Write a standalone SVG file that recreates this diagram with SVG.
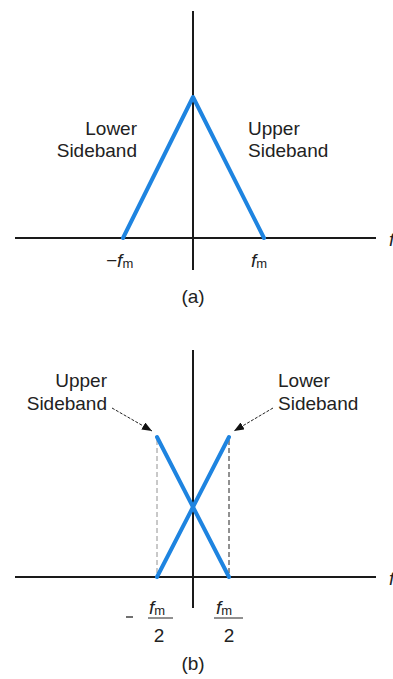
<svg xmlns="http://www.w3.org/2000/svg" width="393" height="679" viewBox="0 0 393 679">
<style>
.ax{stroke:#1a1a1a;stroke-width:2;fill:none}
.bl{stroke:#1e84e0;stroke-width:4;fill:none;stroke-linecap:round;stroke-linejoin:round}
.dsh{stroke:#222;stroke-width:1;fill:none;stroke-dasharray:5,3}
.dshl{stroke:#777;stroke-width:0.8;fill:none;stroke-dasharray:5,3}
.arr{stroke:#222;stroke-width:1;fill:none;stroke-dasharray:3,1.5}
.t{font-family:"Liberation Sans",Arial,sans-serif;font-size:19px;fill:#222}
.fi{font-family:"Liberation Sans",Arial,sans-serif;font-size:19px;font-style:italic;fill:#222}
.sub{font-family:"Liberation Sans",Arial,sans-serif;font-size:13px;font-style:normal;fill:#222}
</style>
<defs>
<marker id="ah" viewBox="0 0 10 8" refX="10" refY="4" markerWidth="10" markerHeight="8" markerUnits="userSpaceOnUse" orient="auto">
<path d="M0,0 L10,4 L0,8 Z" fill="#111"/>
</marker>
</defs>

<g id="panel-a">
<g id="axes-a">
<line class="ax" x1="193" y1="11" x2="193" y2="270"/>
<line class="ax" x1="15" y1="238" x2="376" y2="238"/>
</g>
<g id="spectrum-a">
<polyline class="bl" points="123,238 193,97 264,238"/>
</g>
<g id="label-lower-a">
<text class="t" x="137" y="135" text-anchor="end">Lower</text>
<text class="t" x="137" y="157" text-anchor="end">Sideband</text>
</g>
<g id="label-upper-a">
<text class="t" x="248" y="135">Upper</text>
<text class="t" x="248" y="157">Sideband</text>
</g>
<g id="tick-labels-a">
<text class="fi" x="106" y="267">−f<tspan class="sub" dy="1">m</tspan></text>
<text class="fi" x="251" y="267">f<tspan class="sub" dy="1">m</tspan></text>
</g>
<text class="fi" x="389" y="246">f</text>
<text class="t" x="193" y="303" text-anchor="middle">(a)</text>
</g>

<g id="panel-b">
<g id="axes-b">
<line class="ax" x1="193" y1="350" x2="193" y2="608"/>
<line class="ax" x1="15" y1="577" x2="376" y2="577"/>
</g>
<g id="guides-b">
<line class="dshl" x1="157" y1="440" x2="157" y2="576"/>
<line class="dsh" x1="229" y1="440" x2="229" y2="576"/>
</g>
<g id="spectrum-b">
<line class="bl" x1="157" y1="437" x2="229" y2="577"/>
<line class="bl" x1="157" y1="577" x2="229" y2="437"/>
</g>
<g id="label-upper-b">
<text class="t" x="107" y="387" text-anchor="end">Upper</text>
<text class="t" x="107" y="410" text-anchor="end">Sideband</text>
</g>
<g id="label-lower-b">
<text class="t" x="278" y="387">Lower</text>
<text class="t" x="278" y="410">Sideband</text>
</g>
<g id="connectors">
<line class="arr" x1="112" y1="408" x2="152" y2="431" marker-end="url(#ah)"/>
<line class="arr" x1="273" y1="408" x2="234" y2="431" marker-end="url(#ah)"/>
</g>
<g id="tick-labels-b">
<line x1="126" y1="617" x2="133" y2="617" stroke="#222" stroke-width="1.3"/>
<text class="fi" x="149" y="614">f<tspan class="sub" dy="1">m</tspan></text>
<line x1="148" y1="618" x2="173" y2="618" stroke="#222" stroke-width="1"/>
<text class="t" x="159" y="642" text-anchor="middle">2</text>
<text class="fi" x="216" y="614">f<tspan class="sub" dy="1">m</tspan></text>
<line x1="214" y1="618" x2="243" y2="618" stroke="#222" stroke-width="1"/>
<text class="t" x="229" y="642" text-anchor="middle">2</text>
</g>
<text class="fi" x="389" y="585">f</text>
<text class="t" x="193" y="670" text-anchor="middle">(b)</text>
</g>
</svg>
